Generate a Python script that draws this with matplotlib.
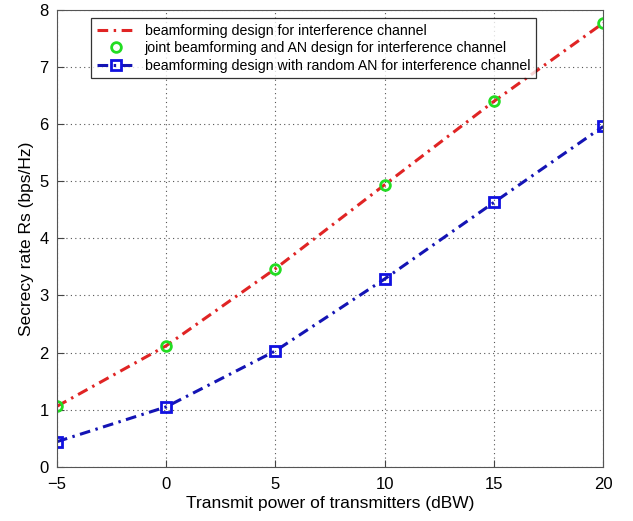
import matplotlib
matplotlib.use("Agg")
import matplotlib.pyplot as plt

plt.rcParams['font.family'] = ['Liberation Sans', 'DejaVu Sans']

# data
power_dbw = [-5, 0, 5, 10, 15, 20]
rate_bf = [1.06, 2.12, 3.47, 4.94, 6.40, 7.77]
rate_joint = [1.06, 2.12, 3.47, 4.94, 6.40, 7.77]
rate_random_an = [0.44, 1.05, 2.03, 3.29, 4.63, 5.96]

labels = ['beamforming design for interference channel',
          'joint beamforming and AN design for interference channel',
          'beamforming design with random AN for interference channel']

dashdot = (0, (3.5, 1.8, 0.8, 1.8))

fig = plt.figure(figsize=(6.33, 5.21), dpi=100)
ax = fig.add_axes([0.090, 0.104, 0.863, 0.877])

ax.plot(power_dbw, rate_bf, color='#e02424', linestyle=dashdot,
        linewidth=2.2, label=labels[0])
ax.plot(power_dbw, rate_joint, linestyle='none', marker='o', markersize=7,
        markerfacecolor='none', markeredgecolor='#22dd22', markeredgewidth=2,
        label=labels[1])
ax.plot(power_dbw, rate_random_an, color='#1414b4', linestyle=dashdot,
        linewidth=2.2, marker='s', markersize=7, markerfacecolor='none',
        markeredgecolor='#1010e0', markeredgewidth=2, label=labels[2])

ax.set_xlim(-5, 20)
ax.set_ylim(0, 8)
ax.set_xticks([-5, 0, 5, 10, 15, 20])
ax.set_xticklabels(['\u22125', '0', '5', '10', '15', '20'])
ax.set_yticks(range(0, 9))
ax.tick_params(direction='in', labelsize=12, length=5, color='#444444')
ax.tick_params(axis='x', pad=7)
ax.tick_params(axis='y', pad=6)
ax.grid(True, linestyle=(0, (1, 3)), color='#555555', linewidth=0.8)
for s in ax.spines.values():
    s.set_color('#555555')

ax.set_xlabel('Transmit power of transmitters (dBW)', fontsize=12.5, labelpad=3)
ax.set_ylabel('Secrecy rate Rs (bps/Hz)', fontsize=12.5, labelpad=4)

leg = ax.legend(loc='upper left', bbox_to_anchor=(0.062, 0.9825), fontsize=10.2,
                frameon=True, fancybox=False, edgecolor='black',
                handlelength=2.8, handletextpad=0.6, borderaxespad=0,
                borderpad=0.4, labelspacing=0.25)
leg.get_frame().set_linewidth(0.9)

fig.savefig('out.png', dpi=100)
